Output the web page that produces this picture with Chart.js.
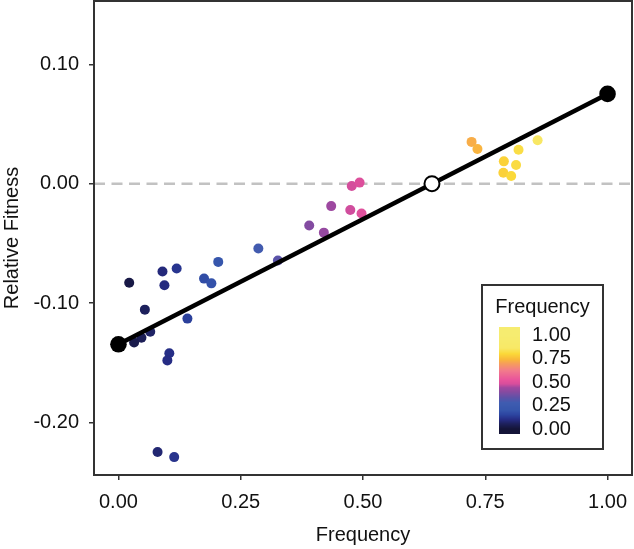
<!DOCTYPE html>
<html>
<head>
<meta charset="utf-8">
<script src="https://cdn.jsdelivr.net/npm/chart.js@4.4.1/dist/chart.umd.min.js"></script>
<style>
  html, body { margin: 0; padding: 0; background: #ffffff; }
  #wrap { width: 634px; height: 549px; }
</style>
</head>
<body>
<div id="wrap"><canvas id="c" width="634" height="549"></canvas></div>
<script>
// ---- data ----
const frequency = [0.022, 0.090, 0.119, 0.094, 0.054, 0.175, 0.190, 0.204, 0.141, 0.065, 0.047,
                   0.032, 0.104, 0.100, 0.080, 0.114, 0.286, 0.326, 0.390, 0.420, 0.435, 0.474,
                   0.497, 0.477, 0.493, 0.722, 0.734, 0.788, 0.787, 0.803, 0.813, 0.818, 0.857];
const relativeFitness = [-0.0830, -0.0735, -0.0710, -0.0850, -0.1055, -0.0795, -0.0835, -0.0655, -0.1130, -0.1240, -0.1290,
                         -0.1330, -0.1420, -0.1480, -0.2247, -0.2290, -0.0543, -0.0644, -0.0351, -0.0410, -0.0188, -0.0221,
                         -0.0250, -0.0019, 0.0009, 0.0350, 0.0290, 0.0187, 0.0092, 0.0064, 0.0156, 0.0284, 0.0364];
const fitFrequency = [0.0, 1.0];
const fitFitness = [-0.1345, 0.0752];
const equilibriumFrequency = [0.641];
const equilibriumFitness = [0.0];
const referenceFitness = 0.0;
const xTicks = [0.00, 0.25, 0.50, 0.75, 1.00];
const yTicks = [-0.20, -0.10, 0.00, 0.10];
const legendTicks = [0.00, 0.25, 0.50, 0.75, 1.00];
const xLabel = 'Frequency';
const yLabel = 'Relative Fitness';
const legendTitle = 'Frequency';

// ---- colour scale ----
const colorStops = [
  [0.00, '#141438'], [0.05, '#1c1f58'], [0.10, '#262c84'], [0.15, '#2c44a0'],
  [0.20, '#3656ac'], [0.28, '#3f5cb0'], [0.33, '#5c52a8'], [0.40, '#8a4aa0'],
  [0.44, '#a048a0'], [0.48, '#d84e9c'], [0.52, '#e8529c'], [0.62, '#f27a8c'],
  [0.70, '#f6a058'], [0.74, '#f9b83a'], [0.80, '#fbd838'], [0.86, '#f8e866'],
  [1.00, '#f6ec70']
];
function hexToRgb(h) { return [parseInt(h.slice(1,3),16), parseInt(h.slice(3,5),16), parseInt(h.slice(5,7),16)]; }
function colorAt(t) {
  t = Math.max(0, Math.min(1, t));
  for (let i = 0; i < colorStops.length - 1; i++) {
    const [t0, c0] = colorStops[i], [t1, c1] = colorStops[i+1];
    if (t <= t1) {
      const f = (t - t0) / (t1 - t0);
      const a = hexToRgb(c0), b = hexToRgb(c1);
      return 'rgb(' + a.map((v, k) => Math.round(v + (b[k] - v) * f)).join(',') + ')';
    }
  }
  return colorStops[colorStops.length - 1][1];
}

const FONT = '"Liberation Sans", Arial, Helvetica, sans-serif';
const TEXT = '#111111';
const FRAME = '#333333';

const framePlugin = {
  id: 'frame',
  afterDraw(chart) {
    const {ctx, chartArea: a} = chart;
    ctx.save();
    ctx.strokeStyle = FRAME;
    ctx.lineWidth = 2;
    ctx.strokeRect(a.left, a.top, a.right - a.left, a.bottom - a.top);

    // colour-bar legend
    const bx = 482, by = 285, bw = 121, bh = 164;
    ctx.fillStyle = '#ffffff';
    ctx.fillRect(bx, by, bw, bh);
    ctx.strokeStyle = FRAME;
    ctx.lineWidth = 2;
    ctx.strokeRect(bx, by, bw, bh);
    ctx.fillStyle = TEXT;
    ctx.font = '20px ' + FONT;
    ctx.textAlign = 'center';
    ctx.textBaseline = 'middle';
    ctx.fillText(legendTitle, bx + bw / 2, 307);
    const y0 = 429, span = 94; // pixel of 0.00 and pixels per unit
    for (let y = 327; y < 434; y++) {
      ctx.fillStyle = colorAt((y0 - y - 0.5) / span);
      ctx.fillRect(499, y, 21, 1);
    }
    ctx.fillStyle = TEXT;
    ctx.textAlign = 'left';
    legendTicks.forEach(v => ctx.fillText(v.toFixed(2), 532, y0 - v * span));
    ctx.restore();
  }
};

const scatterPoints = frequency.map((x, i) => ({x: x, y: relativeFitness[i]}));
const fitPoints = fitFrequency.map((x, i) => ({x: x, y: fitFitness[i]}));
const eqPoints = equilibriumFrequency.map((x, i) => ({x: x, y: equilibriumFitness[i]}));

new Chart(document.getElementById('c'), {
  type: 'scatter',
  data: {
    datasets: [
      {
        type: 'line',
        data: [{x: -0.05, y: referenceFitness}, {x: 1.05, y: referenceFitness}],
        borderColor: '#c2c2c2', borderWidth: 2.5, borderDash: [11, 6.5],
        pointRadius: 0, order: 4
      },
      {
        data: scatterPoints,
        backgroundColor: ctx => colorAt(ctx.raw ? ctx.raw.x : 0),
        borderWidth: 0, pointRadius: 5, pointHoverRadius: 5, order: 3
      },
      {
        type: 'line',
        data: fitPoints,
        borderColor: '#000000', borderWidth: 4.5,
        pointRadius: 8.3, pointBackgroundColor: '#000000', pointBorderWidth: 0,
        order: 2
      },
      {
        data: eqPoints,
        backgroundColor: '#ffffff', borderColor: '#000000', borderWidth: 2,
        pointRadius: 7.5, order: 1
      }
    ]
  },
  options: {
    responsive: false,
    animation: false,
    devicePixelRatio: 1,
    layout: {autoPadding: false, padding: {top: 1, right: 2, left: 0, bottom: 0}},
    plugins: {legend: {display: false}, tooltip: {enabled: false}},
    scales: {
      x: {
        type: 'linear', min: -0.05, max: 1.05,
        afterFit: s => { s.height = 74; s.paddingLeft = 0; s.paddingRight = 0; },
        afterBuildTicks: s => { s.ticks = xTicks.map(v => ({value: v})); },
        grid: {display: true, drawOnChartArea: false, drawTicks: true, tickLength: 5, color: FRAME, lineWidth: 1.5},
        border: {display: false},
        ticks: {padding: 10, color: TEXT, font: {family: FONT, size: 20}, callback: v => Number(v).toFixed(2), maxRotation: 0, autoSkip: false},
        title: {display: true, text: xLabel, color: TEXT, font: {family: FONT, size: 20}, padding: {top: 0, bottom: 1.5}}
      },
      y: {
        type: 'linear', min: -0.244, max: 0.153,
        afterFit: s => { s.width = 94; s.paddingTop = 0; s.paddingBottom = 0; },
        afterBuildTicks: s => { s.ticks = yTicks.map(v => ({value: v})); },
        grid: {display: true, drawOnChartArea: false, drawTicks: true, tickLength: 5, color: FRAME, lineWidth: 1.5},
        border: {display: false},
        ticks: {padding: 10, color: TEXT, font: {family: FONT, size: 20}, callback: v => Number(v).toFixed(2), autoSkip: false},
        title: {display: true, text: yLabel, color: TEXT, font: {family: FONT, size: 20}, padding: {top: 0, bottom: 0}}
      }
    }
  },
  plugins: [framePlugin]
});
</script>
</body>
</html>
